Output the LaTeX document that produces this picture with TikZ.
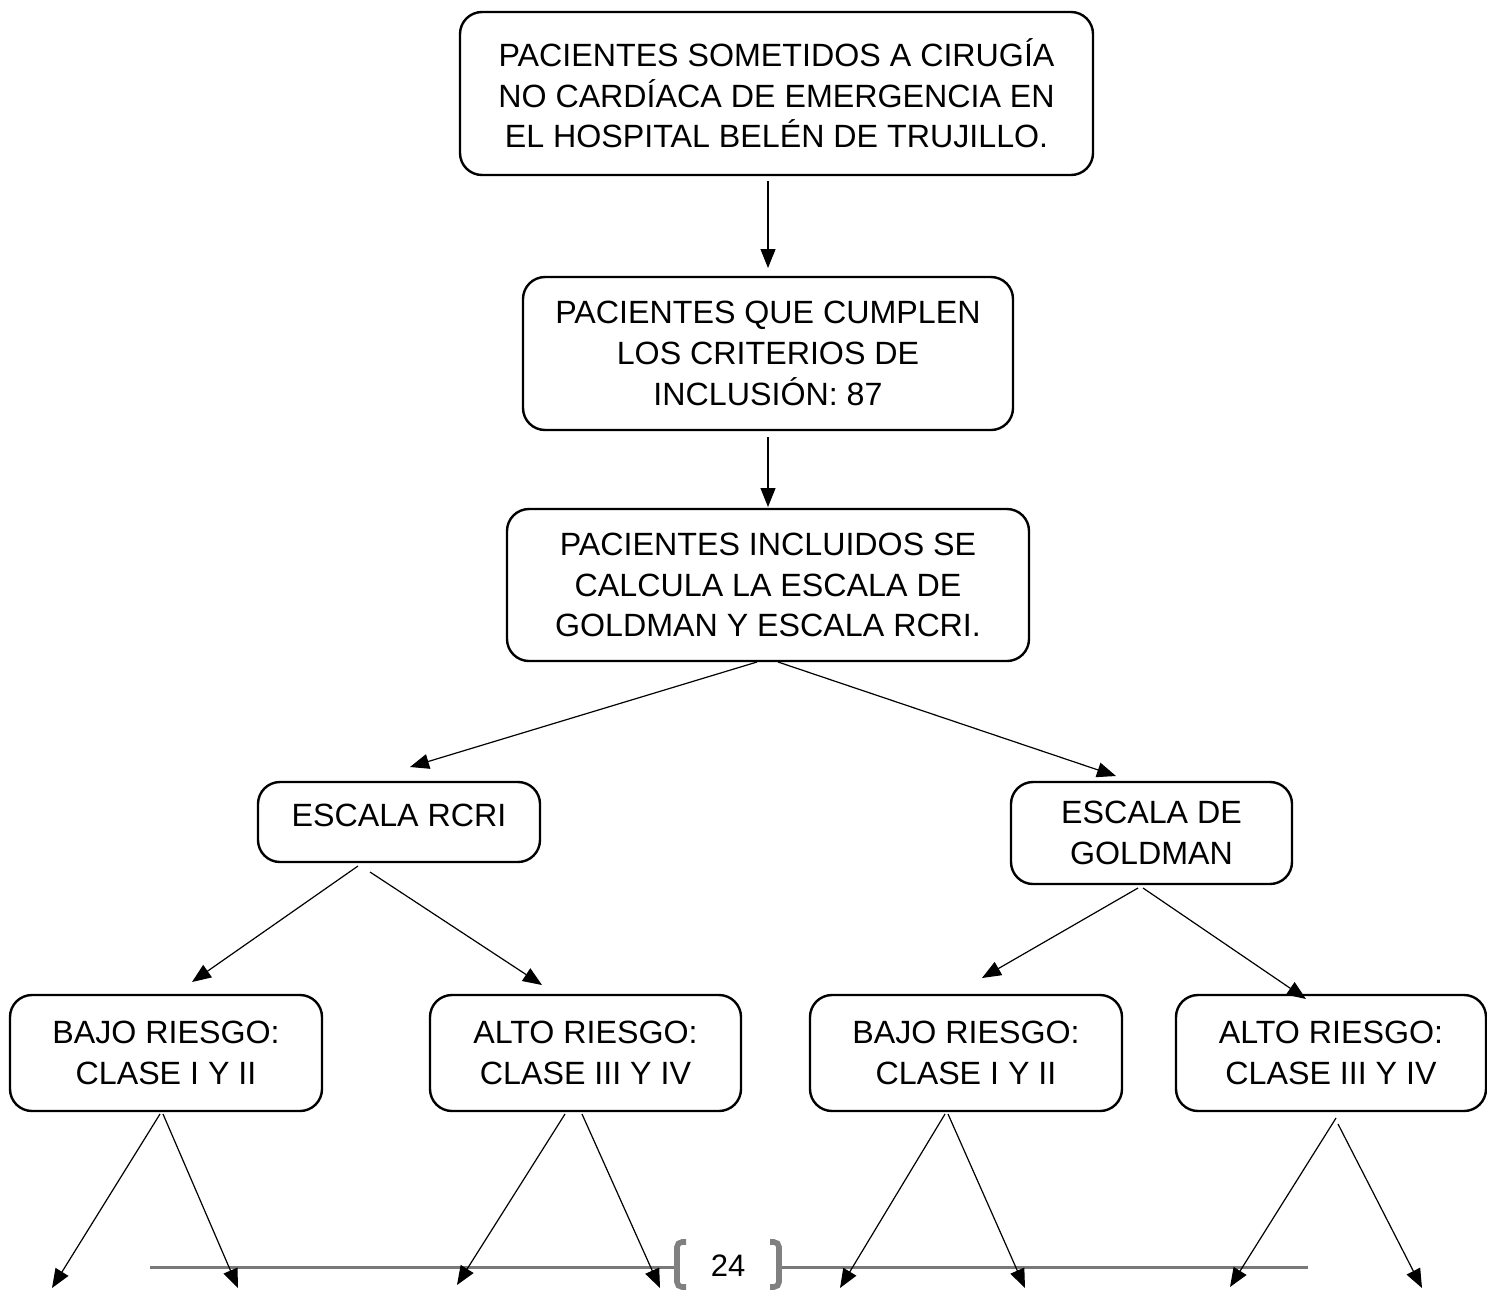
\documentclass[tikz,border=0pt]{standalone}
\usepackage{fontspec}
\setmainfont{Liberation Sans}
\usetikzlibrary{arrows.meta}
\tikzset{
  box/.style={draw, line width=1.2pt, rounded corners=11pt, align=center,
    inner sep=0pt, font=\fontsize{16.1}{20.3}\selectfont},
  arr/.style={line width=0.6pt, -{Triangle[length=9.5pt,width=7.5pt]}},
  footline/.style={draw=gray!95!black, line width=1.5pt},
  bracketline/.style={draw=gray, line width=2.8pt, rounded corners=2.5pt},
}
\begin{document}
\begin{tikzpicture}[x=0.5pt,y=-0.5pt]
\useasboundingbox (0,0) rectangle (1487,1290);
% boxes
\node[box, minimum width=316.5pt, minimum height=81.5pt] (b1) at (776.5,93.5)
  {PACIENTES SOMETIDOS A CIRUGÍA\\NO CARDÍACA DE EMERGENCIA EN\\EL HOSPITAL BELÉN DE TRUJILLO.};
\node[box, minimum width=245pt, minimum height=76.5pt] (b2) at (768,353.5)
  {PACIENTES QUE CUMPLEN\\LOS CRITERIOS DE\\INCLUSIÓN: 87};
\node[box, minimum width=261pt, minimum height=76pt] (b3) at (768,585)
  {PACIENTES INCLUIDOS SE\\CALCULA LA ESCALA DE\\GOLDMAN Y ESCALA RCRI.};
\node[box, minimum width=141pt, minimum height=40pt, text depth=7pt] (rcri) at (399,822)
  {ESCALA RCRI};
\node[box, minimum width=140.5pt, minimum height=51pt] (gold) at (1151.5,833)
  {ESCALA DE\\GOLDMAN};
\node[box, minimum width=156pt, minimum height=58pt] (la) at (166,1053)
  {BAJO RIESGO:\\CLASE I Y II};
\node[box, minimum width=155.5pt, minimum height=58pt] (lb) at (585.5,1053)
  {ALTO RIESGO:\\CLASE III Y IV};
\node[box, minimum width=156pt, minimum height=58pt] (lc) at (966,1053)
  {BAJO RIESGO:\\CLASE I Y II};
\node[box, minimum width=155pt, minimum height=58pt] (ld) at (1331,1053)
  {ALTO RIESGO:\\CLASE III Y IV};
% connector end points
\coordinate (s1) at (768,181);   \coordinate (t1) at (768,268);
\coordinate (s2) at (768,437);   \coordinate (t2) at (768,507);
\coordinate (s3a) at (757,662);  \coordinate (t3a) at (410,767);
\coordinate (s3b) at (778,662);  \coordinate (t3b) at (1116,776);
\coordinate (s4a) at (358,866);  \coordinate (t4a) at (192,982);
\coordinate (s4b) at (370,872);  \coordinate (t4b) at (542,985);
\coordinate (s5a) at (1138,888); \coordinate (t5a) at (982,978);
\coordinate (s5b) at (1143,888); \coordinate (t5b) at (1306,999);
\coordinate (sa1) at (160,1114); \coordinate (ta1) at (52,1288);
\coordinate (sa2) at (163,1114); \coordinate (ta2) at (238,1288);
\coordinate (sb1) at (565,1114); \coordinate (tb1) at (457,1285);
\coordinate (sb2) at (582,1114); \coordinate (tb2) at (660,1288);
\coordinate (sc1) at (945,1114); \coordinate (tc1) at (840,1288);
\coordinate (sc2) at (948,1114); \coordinate (tc2) at (1025,1288);
\coordinate (sd1) at (1336,1118); \coordinate (td1) at (1230,1287);
\coordinate (sd2) at (1338,1124); \coordinate (td2) at (1422,1288);
% footer
\coordinate (fl1) at (150,1267);  \coordinate (fl2) at (677,1267);
\coordinate (fr1) at (779,1267);  \coordinate (fr2) at (1308,1267);
\draw[footline] (fl1) -- (fl2);
\draw[footline] (fr1) -- (fr2);
\draw[bracketline] (686,1242) -- (677,1242) -- (677,1287) -- (686,1287);
\draw[bracketline] (770,1242) -- (779,1242) -- (779,1287) -- (770,1287);
\node[font=\fontsize{15.5}{18}\selectfont, inner sep=0pt] (pg) at (728,1266) {24};
% connectors
\draw[arr] (s1) -- (t1);
\draw[arr] (s2) -- (t2);
\draw[arr] (s3a) -- (t3a);
\draw[arr] (s3b) -- (t3b);
\draw[arr] (s4a) -- (t4a);
\draw[arr] (s4b) -- (t4b);
\draw[arr] (s5a) -- (t5a);
\draw[arr] (s5b) -- (t5b);
\draw[arr] (sa1) -- (ta1);
\draw[arr] (sa2) -- (ta2);
\draw[arr] (sb1) -- (tb1);
\draw[arr] (sb2) -- (tb2);
\draw[arr] (sc1) -- (tc1);
\draw[arr] (sc2) -- (tc2);
\draw[arr] (sd1) -- (td1);
\draw[arr] (sd2) -- (td2);
\end{tikzpicture}
\end{document}
